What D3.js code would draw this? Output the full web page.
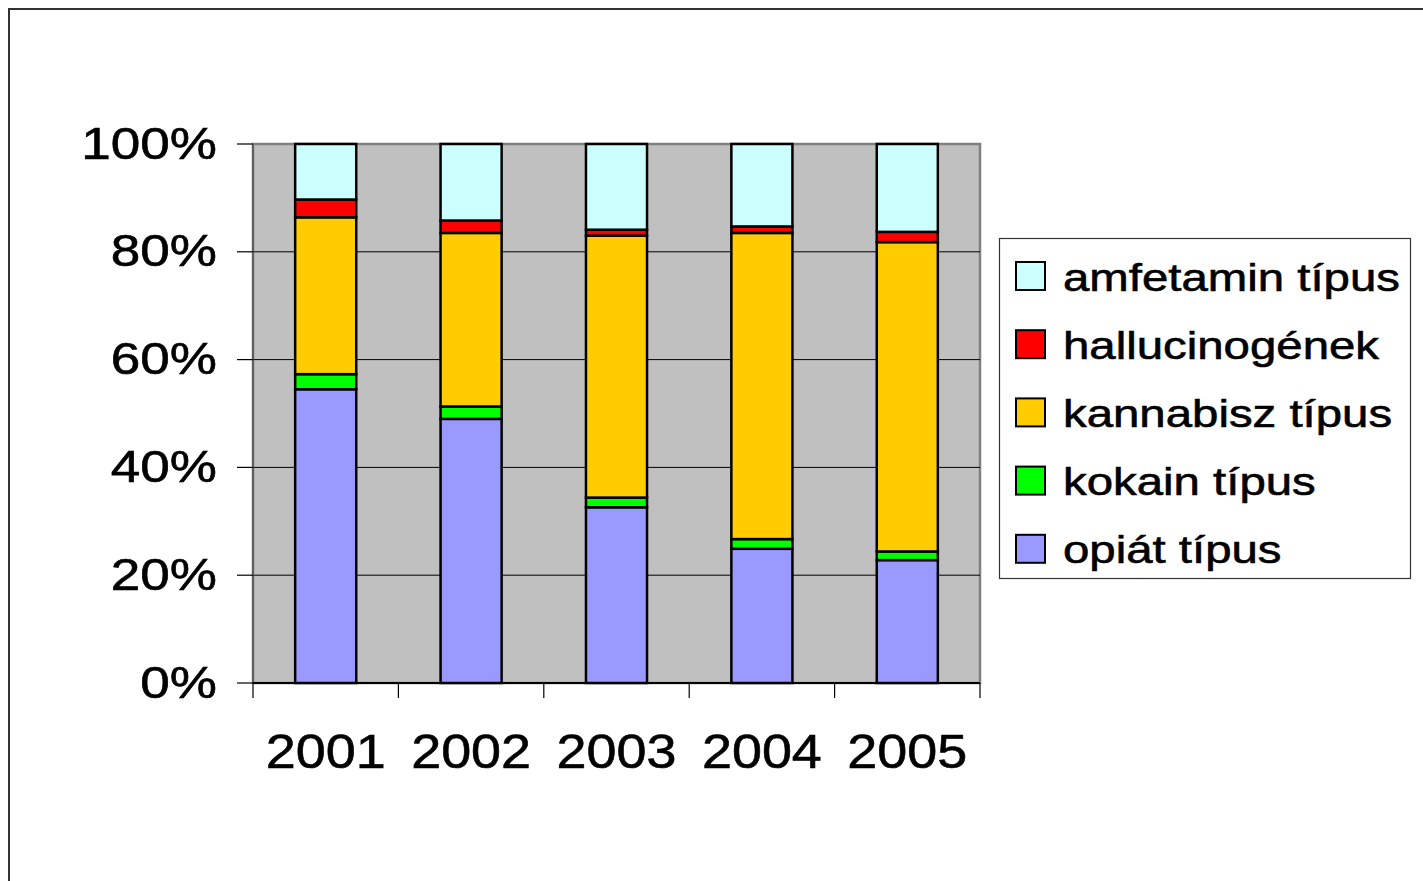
<!DOCTYPE html>
<html>
<head>
<meta charset="utf-8">
<script src="https://cdn.jsdelivr.net/npm/d3@7"></script>
<style>
  body { margin: 0; background: #fff; }
  svg { display: block; }
  text { font-family: "Liberation Sans", Arial, sans-serif; fill: #000; stroke: #000; stroke-width: 0.6; }
</style>
</head>
<body>
<svg id="chart" width="1423" height="881"></svg>
<script>
// Share of drug types per year (percent of the yearly total)
const years = ["2001", "2002", "2003", "2004", "2005"];
const seriesNames = ["opiát típus", "kokain típus", "kannabisz típus", "hallucinogének", "amfetamin típus"];
const opiat     = [54.5, 49.0, 32.6, 24.9, 22.8];
const kokain    = [2.8, 2.3, 1.8, 1.8, 1.6];
const kannabisz = [29.1, 32.2, 48.6, 56.8, 57.4];
const halluc    = [3.3, 2.3, 1.1, 1.2, 1.9];
const amfetamin = [10.3, 14.2, 15.9, 15.3, 16.3];
const yTicks = [0, 0.2, 0.4, 0.6, 0.8, 1];
const colors = ["#9999FF", "#00FF00", "#FFCC00", "#FF0000", "#CCFFFF"];

const seriesValues = [opiat, kokain, kannabisz, halluc, amfetamin];
const rows = years.map((y, i) => {
  const r = { year: y };
  seriesNames.forEach((n, k) => r[n] = seriesValues[k][i]);
  return r;
});

const svg = d3.select("#chart");
const plot = { left: 253, right: 980, top: 144, bottom: 683 };

// outer chart frame
svg.append("rect")
  .attr("x", 9).attr("y", 9).attr("width", 1440).attr("height", 900)
  .attr("fill", "#fff").attr("stroke", "#333").attr("stroke-width", 2);

const x = d3.scaleBand().domain(years)
  .range([plot.left, plot.right])
  .paddingInner(0.58).paddingOuter(0.29);
const y = d3.scaleLinear().domain([0, 1]).range([plot.bottom, plot.top]);

// plot area
svg.append("rect")
  .attr("x", plot.left).attr("y", plot.top)
  .attr("width", plot.right - plot.left).attr("height", plot.bottom - plot.top)
  .attr("fill", "#C0C0C0").attr("stroke", "#808080").attr("stroke-width", 2.5);

// horizontal gridlines
svg.append("g").selectAll("line")
  .data(yTicks.filter(t => t > 0 && t < 1)).join("line")
  .attr("x1", plot.left).attr("x2", plot.right)
  .attr("y1", d => y(d)).attr("y2", d => y(d))
  .attr("stroke", "#000").attr("stroke-width", 1);

// stacked bars
const stack = d3.stack().keys(seriesNames).offset(d3.stackOffsetExpand);
const layers = stack(rows);
svg.append("g").selectAll("g")
  .data(layers).join("g")
  .attr("fill", (d, i) => colors[i])
  .selectAll("rect")
  .data(d => d).join("rect")
  .attr("x", d => x(d.data.year))
  .attr("width", x.bandwidth())
  .attr("y", d => y(d[1]))
  .attr("height", d => y(d[0]) - y(d[1]))
  .attr("stroke", "#000").attr("stroke-width", 2.5);

// y axis
const yAxis = svg.append("g");
yAxis.append("line")
  .attr("x1", plot.left).attr("x2", plot.left)
  .attr("y1", plot.top).attr("y2", plot.bottom)
  .attr("stroke", "#555").attr("stroke-width", 1.5);
yAxis.selectAll("line.tick")
  .data(yTicks).join("line").attr("class", "tick")
  .attr("x1", plot.left - 16).attr("x2", plot.left)
  .attr("y1", d => y(d)).attr("y2", d => y(d))
  .attr("stroke", "#000").attr("stroke-width", 1.2);
yAxis.selectAll("text")
  .data(yTicks).join("text")
  .attr("transform", d => `translate(217,${y(d) + 14.5}) scale(1.22,1)`)
  .attr("text-anchor", "end")
  .attr("font-size", 43.5)
  .text(d => d3.format(".0%")(d));

// x axis
const xAxis = svg.append("g");
xAxis.append("line")
  .attr("x1", plot.left).attr("x2", plot.right)
  .attr("y1", plot.bottom).attr("y2", plot.bottom)
  .attr("stroke", "#000").attr("stroke-width", 2);
const step = x.step();
const boundaries = d3.range(years.length + 1).map(i => plot.left + i * step);
xAxis.selectAll("line.tick")
  .data(boundaries).join("line").attr("class", "tick")
  .attr("x1", d => d).attr("x2", d => d)
  .attr("y1", plot.bottom).attr("y2", plot.bottom + 15)
  .attr("stroke", "#000").attr("stroke-width", 1.2);
xAxis.selectAll("text")
  .data(years).join("text")
  .attr("transform", d => `translate(${x(d) + x.bandwidth() / 2},768) scale(1.1,1)`)
  .attr("text-anchor", "middle")
  .attr("font-size", 49)
  .text(d => d);

// legend
const legend = svg.append("g");
legend.append("rect")
  .attr("x", 999.5).attr("y", 238.5).attr("width", 411).attr("height", 340)
  .attr("fill", "#fff").attr("stroke", "#333").attr("stroke-width", 1.2);
const legendOrder = seriesNames.map((n, i) => ({ name: n, color: colors[i] })).reverse();
const items = legend.selectAll("g.item")
  .data(legendOrder).join("g").attr("class", "item")
  .attr("transform", (d, i) => `translate(0,${276 + i * 68.2})`);
items.append("rect")
  .attr("x", 1016).attr("y", -14).attr("width", 29).attr("height", 28)
  .attr("fill", d => d.color).attr("stroke", "#000").attr("stroke-width", 2);
items.append("text")
  .attr("transform", "translate(1063,14.5) scale(1.215,1)")
  .attr("font-size", 39)
  .text(d => d.name);
</script>
</body>
</html>
